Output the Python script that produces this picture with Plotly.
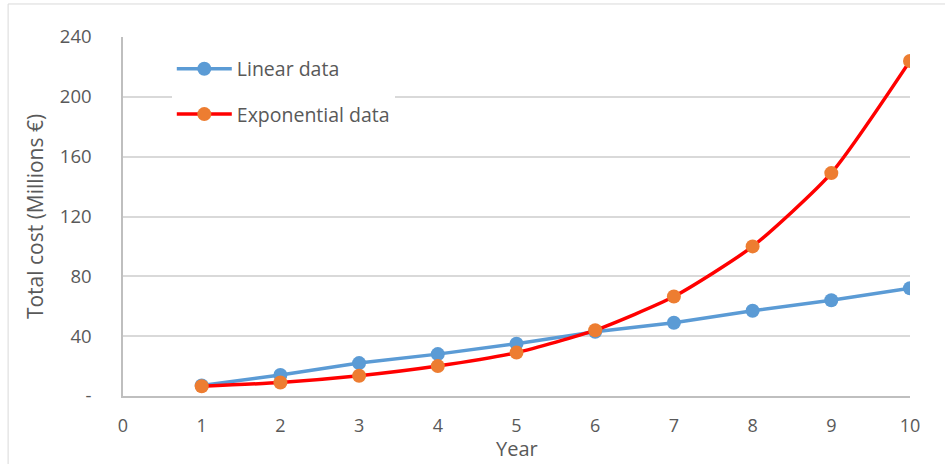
import plotly.graph_objects as go

years = [1, 2, 3, 4, 5, 6, 7, 8, 9, 10]
linear_data = [7, 14, 22, 28, 35, 43, 49, 57, 64, 72]
exponential_data = [6.5, 9, 13.5, 20, 29, 44, 66.5, 100, 149, 224]
y_tick_vals = [0, 40, 80, 120, 160, 200, 240]
y_tick_text = ["-", "40", "80", "120", "160", "200", "240"]
x_tick_vals = [0, 1, 2, 3, 4, 5, 6, 7, 8, 9, 10]

FONT = "Open Sans"
TXT = "#595959"

fig = go.Figure()
fig.add_trace(go.Scatter(
    x=years, y=linear_data, name="Linear data", mode="lines+markers",
    line=dict(color="#5B9BD5", width=3.5),
    marker=dict(color="#5B9BD5", size=14), legendgroup="a",
))
fig.add_trace(go.Scatter(
    x=years, y=exponential_data, name="Exponential data", mode="lines+markers",
    line=dict(color="#FF0000", width=3.5, shape="spline", smoothing=0.6),
    marker=dict(color="#ED7D31", size=14), legendgroup="b",
))

fig.update_layout(
    width=945, height=464,
    margin=dict(l=123, r=35, t=37, b=68),
    paper_bgcolor="white", plot_bgcolor="white",
    font=dict(family=FONT, color=TXT, size=18),
    legend=dict(x=0.062, y=0.965, xanchor="left", yanchor="top",
                bgcolor="white", font=dict(size=19.5, color=TXT, family=FONT),
                tracegroupgap=17, itemwidth=55),
    xaxis=dict(range=[0, 10], tickvals=x_tick_vals, showgrid=False,
               showline=True, linecolor="#BFBFBF", linewidth=1.5,
               zeroline=False, ticks="", ticklabelstandoff=13, automargin=False,
               tickfont=dict(size=18)),
    yaxis=dict(range=[0, 240], tickvals=y_tick_vals, ticktext=y_tick_text,
               showgrid=True, gridcolor="#D9D9D9", gridwidth=1.5,
               showline=True, linecolor="#BFBFBF", linewidth=1.5,
               zeroline=False, ticks="", ticklabelstandoff=26, automargin=False,
               title=dict(text="Total cost (Millions €)", standoff=10, font=dict(size=21)),
               tickfont=dict(size=18.5)),
    annotations=[dict(text="Year", xref="paper", yref="paper", x=0.5, y=-0.147,
                      xanchor="center", yanchor="middle", showarrow=False,
                      font=dict(size=20, color=TXT, family=FONT))],
    shapes=[dict(type="rect", xref="paper", yref="paper",
                 x0=-0.146, x1=1.2, y0=-0.3, y1=1.092,
                 line=dict(color="#D9D9D9", width=1), layer="below")],
    showlegend=True,
)

fig.write_html("out.html", config={"displayModeBar": False},
               post_script="document.body.style.margin='0';")
